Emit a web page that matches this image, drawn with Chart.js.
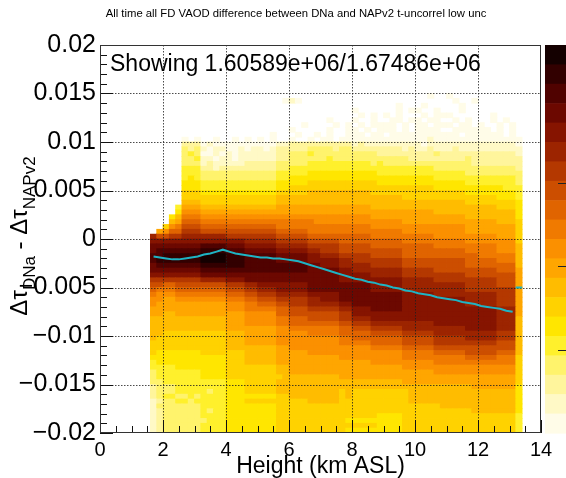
<!DOCTYPE html>
<html>
<head>
<meta charset="utf-8">
<title>VAOD difference DNa vs NAPv2</title>
<script src="https://cdn.jsdelivr.net/npm/chart.js@4/dist/chart.umd.min.js"></script>
<style>
  html, body { margin: 0; padding: 0; background: #fff; }
  canvas { display: block; }
</style>
</head>
<body>
<canvas id="vaodChart" width="566" height="478"></canvas>
<script>
// height bin edges (km ASL)
const heightEdges = [1.6, 1.8, 2.0, 2.2, 2.4, 2.6, 2.8, 3.0, 3.2, 3.4, 3.6, 3.8, 4.0, 4.2, 4.4, 4.6, 4.8, 5.0,
  5.2, 5.4, 5.6, 5.8, 6.0, 6.2, 6.4, 6.6, 6.8, 7.0, 7.2, 7.4, 7.6, 7.8, 8.0, 8.2, 8.4, 8.6, 8.8, 9.0, 9.2, 9.4,
  9.6, 9.8, 10.0, 10.2, 10.4, 10.6, 10.8, 11.0, 11.2, 11.4, 11.6, 11.8, 12.0, 12.2, 12.4, 12.6, 12.8, 13.0,
  13.2, 13.4];

// delta tau bin edges, top to bottom
const dTauEdges = [0.015, 0.0145, 0.014, 0.0135, 0.013, 0.0125, 0.012, 0.0115, 0.011, 0.0105,
  0.01, 0.0095, 0.009, 0.0085, 0.008, 0.0075, 0.007, 0.0065, 0.006, 0.0055,
  0.005, 0.0045, 0.004, 0.0035, 0.003, 0.0025, 0.002, 0.0015, 0.001, 0.0005, 0,
  -0.0005, -0.001, -0.0015, -0.002, -0.0025, -0.003, -0.0035, -0.004, -0.0045, -0.005,
  -0.0055, -0.006, -0.0065, -0.007, -0.0075, -0.008, -0.0085, -0.009, -0.0095, -0.01,
  -0.0105, -0.011, -0.0115, -0.012, -0.0125, -0.013, -0.0135, -0.014, -0.0145, -0.015,
  -0.0155, -0.016, -0.0165, -0.017, -0.0175, -0.018, -0.0185, -0.019, -0.0195, -0.02];

// colour level per cell, one string per delta tau row ('.' = empty bin, 1 = lowest ... k = highest)
// spaces only group the columns for reading
const levelKeys = '.123456789abcdefghijk';
const densityRows = [
  '..... ... .... ..... ..... ..... ..... ..... ..... ..1.. 1.... ..... . .',
  '..... ... .... ..... ....1 21... ..... ..... ..... ..... .1..1 ..... . .',
  '..... ... .... ..... ..... ..... ..... ..... ..1.. .1... ..1.. ..... . .',
  '..... ... .... ..... ..... ..... ..... 1.... ..1.1 1..1. ..1.. ..... . .',
  '..... ... .... ..... ..... ..... ..... .1.1. 1.1.. .1.11 1.... ..1.. . .',
  '..... ... .... ..... ..... ..... .1... 1..1. .11.1 1.11. .1.1. ..1.1 . .',
  '..... ... .... ..... ..... ..1.. ..1.1 .1.11 11.1. 11.11 1.11. 1..1. 1 .',
  '..... ... .... ..... ..... 1.... .1..1 1.1.1 11.1. 1111. .1111 11.1. 1 .',
  '..... ... .... ..... ..1.. .1..1 .1..1 11.11 .1111 11111 11.11 1111. 1 .',
  '..... 1.1 ..1. .1.1. 1.1.. 1..1. 11.11 11111 11111 11211 11111 11111 1 1',
  // 0.0095 .. 0.01
  '..... 333 1211 11111 11122 33333 33333 23222 22222 21222 22222 22222 2 1',
  '..... 434 2122 11212 21233 33344 44344 33333 33323 22322 23222 22222 2 2',
  '..... 454 1121 21222 22233 44454 44444 44443 33333 33343 33333 33333 3 2',
  '..... 445 2212 21222 22233 44444 45444 44444 44443 33333 33343 33333 3 3',
  '..... 444 2322 22233 33344 44455 55555 55545 44444 44444 44443 33333 3 3',
  '..... 555 3323 33333 33344 55555 55555 55555 55555 55544 44444 44444 4 3',
  '..... 555 4444 44444 44455 55566 66666 66665 55555 55555 55544 44444 4 4',
  '..... 565 4444 44444 44455 66666 66666 66666 66666 66655 55555 55555 5 4',
  '..... 666 5555 55555 55566 66677 77777 77776 66666 66666 66655 55555 5 4',
  '..... 666 5555 55555 55566 77777 77777 77777 77777 77766 66666 66665 5 5',
  // 0.005 .. 0.0055
  '..... 777 6666 66666 66677 77788 88888 88877 77777 77777 77766 66666 6 5',
  '..... 777 7777 77777 77788 88888 88888 88888 88877 77777 77777 77766 6 5',
  '..... 888 7777 77777 77788 88888 88888 88888 88888 88888 88877 77777 7 6',
  '....5 999 8888 88888 88899 99999 99999 99988 88888 88888 88888 88877 7 6',
  '....6 aaa 9999 99999 99999 99999 99999 99999 99999 99988 88888 88888 8 6',
  '...68 bbb aaaa aaaaa aaaaa aaaaa aaaaa aaa99 99999 99999 99988 88888 8 6',
  '...89 ccc bbbb bbbbb bbbbb bbbba aaaaa aaaaa aaa99 99999 99999 99988 8 7',
  '..7ab ddd cccc ccccc cccbb bbbbb bbbbb bbbaa aaaaa aaaaa aaa99 99999 9 7',
  '.9acc eee dddd ddddd dddcc cccbb bbbbb bbbbb bbbaa aaaaa aaa99 99999 9 7',
  'fddee fff ffff eeeee eeedd dddcc ccccc cccbb bbbbb bbbaa aaaaa aaa99 9 7',
  // -0.0005 .. 0
  'ggggg ggg gggg gggff fffee eeedd dddcc ccccc cccbb bbbbb bbbaa aaaaa a 7',
  'hhhhh hhh iiii hhhgg gggff fffee eeedd dddcc ccccc cccbb bbbbb bbbaa a 8',
  'hiiii iii jjjj iiihh hhhgg gggff eeedd ddddd dddcc ccccc cccbb bbbaa a 8',
  'iijjj jjj kkkk jjjii iiihh hhhgg fffee eeedd dddcc ccccc ccccc bbbbb b 8',
  'ijjjj jjj kkkk jjjii iiihh hhhgg gggff eeeee eeedd ddddd dddcc cccbb b 8',
  'hiiii iii jjjj jjjii iiiii iiihh gggff fffee eeedd ddddd dddcc ccccc c 8',
  'hhhhh hhh iiii iiiii iiiii iiihh hhhgg fffff fffee eeedd ddddd dddcc c 9',
  'ggggg ggg hhhh hhhhh hhhhh hhhhh hhhgg gggff fffee eeeee eeedd ddddd d 9',
  'eeeee eee ffff ggghh hhhhh hhhhh hhhgg ggggg gggff fffee eeeee eeedd d 9',
  'ddccd ddd dddd eeeff ggggg ggghh hhhhh hhhgg gggff fffff fffee eeedd d 9',
  // -0.0055 .. -0.005
  'cbbbc ccc cccc dddee fffgg ggghh hhhhh hhhgg gggff fffff fffee eeeee e 9',
  'baaab bbb bbbb cccdd eeeff fffgg ggghh hhhhh hhhgg gggff fffff fffee e 9',
  'aa99a aaa aaaa bbbcc dddee eeeff ggghh hhhhh hhhgg ggggg gggff fffee e 9',
  'a9999 999 9999 aaabb cccdd eeeff fffgg hhhhh hhhgg ggggg gggff fffee e 9',
  '99999 999 9999 aaabb bbbcc dddee eeeff ggghh hhhgg ggggg ggggg gggff f 9',
  '99889 999 9999 999aa aaacc ddddd dddee ggggg ggggg ggggg ggggg gggff f 9',
  '88888 888 8888 999aa aaabb cccdd dddee fffgg ggggg ggggg ggggg gggff f 8',
  '88888 888 8888 999aa aaabb ccccc cccdd eeeff fffff fffgg ggggg gggff f 8',
  '88888 888 8888 99999 999aa bbbbb bbbcc dddee eeeff fffff fffgg gggff f 8',
  '88777 777 7777 88899 999aa aaabb bbbcc cccdd dddee eeeff fffff fffee e 8',
  // -0.0105 .. -0.01
  '87777 777 7777 88899 999aa aaaaa aaabb ccccc cccdd dddee eeeff fffee e 8',
  '77777 777 7777 88899 999aa aaaaa aaabb bbbcc cccdd dddee eeeee eeedd d 8',
  '77777 777 7777 88888 88899 aaaaa aaaaa aaabb bbbcc cccdd ddddd ddddd d 8',
  '76666 666 7777 77788 88899 999aa aaaaa aaaaa aaabb bbbcc cccdd dddcc c 8',
  '66666 666 6666 77788 88899 99999 999aa aaaaa aaabb bbbbb bbbcc cccbb b 7',
  '56666 666 6666 77788 88899 99999 99999 999aa aaaaa aaabb bbbbb bbbbb b 7',
  '55556 666 6666 77777 77788 99999 99999 99999 999aa aaaaa aaaaa aaaaa a 7',
  '45555 555 6666 77777 77788 99999 99999 99999 99999 999aa aaaaa aaaaa a 7',
  '45555 555 6666 77777 77778 88888 88899 99999 99999 99999 99999 99999 9 7',
  '44555 555 5555 66677 77788 88888 88888 88888 88899 99999 99999 99999 9 7',
  // -0.0155 .. -0.015
  '34445 555 5555 66677 77788 88888 88888 88888 88888 88888 88889 99999 9 6',
  '34445 555 5455 66677 77788 88888 88878 77777 77778 88888 88888 88888 8 6',
  '34554 454 5555 66666 66677 88888 88878 77777 77778 88888 88888 88888 8 6',
  '23445 545 5555 66677 77777 77788 88877 77777 77778 88888 88888 88888 8 6',
  '24444 444 5555 66666 66677 77777 77777 77777 77777 77778 88888 88888 8 6',
  '23444 444 5455 66666 66677 77777 77777 77777 77777 77777 77778 88888 8 6',
  '23444 444 5555 66666 66677 77777 77777 77776 66677 77777 77777 77777 7 5',
  '23444 444 4555 66666 66677 77777 77776 66666 66677 77777 77777 77777 7 5',
  '23444 444 5555 66666 66677 77777 77777 77776 66677 77777 77777 77777 7 5',
  '23444 444 5555 66666 66677 77777 77776 66666 66677 77777 77777 77777 7 5'
];

// mean delta tau per height bin (profile)
const profileHeight = [1.7, 1.9, 2.1, 2.3, 2.5, 2.7, 2.9, 3.1, 3.3, 3.5, 3.7, 3.9, 4.1, 4.3, 4.5, 4.7, 4.9,
  5.1, 5.3, 5.5, 5.7, 5.9, 6.1, 6.3, 6.5, 6.7, 6.9, 7.1, 7.3, 7.5, 7.7, 7.9, 8.1, 8.3, 8.5, 8.7, 8.9, 9.1,
  9.3, 9.5, 9.7, 9.9, 10.1, 10.3, 10.5, 10.7, 10.9, 11.1, 11.3, 11.5, 11.7, 11.9, 12.1, 12.3, 12.5, 12.7,
  12.9, 13.1];
const profileMean = [-0.0018, -0.0019, -0.0020, -0.0021, -0.0021, -0.0020, -0.0019, -0.0018, -0.0016, -0.0015,
  -0.0013, -0.0011, -0.0013, -0.0015, -0.0016, -0.0017, -0.0018, -0.0019, -0.0019, -0.0020,
  -0.0020, -0.0021, -0.0022, -0.0023, -0.0025, -0.0027, -0.0029, -0.0031, -0.0033, -0.0035,
  -0.0037, -0.0039, -0.0041, -0.0042, -0.0044, -0.0045, -0.0047, -0.0048, -0.0050, -0.0051,
  -0.0053, -0.0054, -0.0056, -0.0057, -0.0058, -0.0060, -0.0061, -0.0062, -0.0063, -0.0065,
  -0.0066, -0.0067, -0.0069, -0.0070, -0.0071, -0.0072, -0.0074, -0.0075];
// last height bin, drawn on its own
const edgeBinHeight = [13.3];
const edgeBinMean = [-0.0050];

const xTickValues = [0, 2, 4, 6, 8, 10, 12, 14];
const xTickLabels = ['0', '2', '4', '6', '8', '10', '12', '14'];
const yTickValues = [-0.02, -0.015, -0.01, -0.005, 0, 0.005, 0.01, 0.015, 0.02];
const yTickLabels = ['\u22120.02', '\u22120.015', '\u22120.01', '\u22120.005', '0', '0.005', '0.01', '0.015', '0.02'];

// log10 of entries on the colour axis
const zLogMax = 4.65;
const zLogTicks = [1, 2, 3];

const palette = ['#fffce8', '#fff9c6', '#fff59c', '#fff36c', '#fff02c', '#ffe600', '#ffd200', '#ffbc00',
  '#ffa600', '#fb9000', '#f07a00', '#e06400', '#cc4e00', '#b43800', '#9c2400', '#861400',
  '#6c0800', '#500200', '#320000', '#140000'];

const plotTitle = 'All time all FD VAOD difference between DNa and NAPv2 t-uncorrel low unc';
const statsText = 'Showing 1.60589e+06/1.67486e+06';
const xTitle = 'Height (km ASL)';
const yTitleParts = [
  { text: '\u0394\u03c4', sub: false },
  { text: 'DNa', sub: true },
  { text: ' - \u0394\u03c4', sub: false },
  { text: 'NAPv2', sub: true }
];

const fontFamily = "'Liberation Sans', Arial, Helvetica, sans-serif";
const lineCyan = '#1fb4c4';

// build the 2D histogram cells as floating bars
const cells = [];
densityRows.forEach((row, r) => {
  const cols = row.replace(/ /g, '');
  for (let c = 0; c < cols.length; c++) {
    const level = levelKeys.indexOf(cols[c]);
    if (level > 0) {
      cells.push({
        x: (heightEdges[c] + heightEdges[c + 1]) / 2,
        y: [dTauEdges[r + 1], dTauEdges[r]],
        level: level
      });
    }
  }
});

// grid, frame and inside tick marks, drawn right after the histogram
const frameAndGrid = {
  id: 'frameAndGrid',
  afterDatasetDraw(chart, args) {
    if (args.index !== 0) return;
    const { ctx, chartArea: a, scales: { x, y } } = chart;
    ctx.save();
    ctx.strokeStyle = 'rgba(30,30,30,0.8)';
    ctx.lineWidth = 1;
    ctx.setLineDash([1.5, 1.5]);
    ctx.beginPath();
    xTickValues.slice(1, -1).forEach(v => {
      const px = Math.round(x.getPixelForValue(v)) + 0.5;
      ctx.moveTo(px, a.top);
      ctx.lineTo(px, a.bottom);
    });
    yTickValues.slice(1, -1).forEach(v => {
      const py = Math.round(y.getPixelForValue(v)) + 0.5;
      ctx.moveTo(a.left, py);
      ctx.lineTo(a.right, py);
    });
    ctx.stroke();
    ctx.setLineDash([]);

    ctx.strokeStyle = '#111';
    ctx.beginPath();
    for (let k = 0; k <= 28; k++) {
      const px = Math.round(x.getPixelForValue(k * 0.5)) + 0.5;
      const len = k % 4 === 0 ? 13 : 7;
      ctx.moveTo(px, a.bottom);
      ctx.lineTo(px, a.bottom - len);
    }
    for (let k = -20; k <= 20; k++) {
      const py = Math.round(y.getPixelForValue(k * 0.001)) + 0.5;
      const len = k % 5 === 0 ? 13 : 7;
      ctx.moveTo(a.left, py);
      ctx.lineTo(a.left + len, py);
    }
    ctx.stroke();
    ctx.strokeStyle = '#333';
    ctx.strokeRect(a.left + 0.5, a.top + 0.5, a.width - 1, a.height - 1);
    ctx.restore();
  }
};

// colour axis, titles and the entries box
const annotations = {
  id: 'annotations',
  afterDraw(chart) {
    const { ctx, chartArea: a, width } = chart;
    ctx.save();

    const left = a.right + 4;
    const n = palette.length;
    const band = (a.bottom - a.top) / n;
    for (let i = 0; i < n; i++) {
      ctx.fillStyle = palette[n - 1 - i];
      ctx.fillRect(left, a.top + i * band, width - left, band + 0.6);
    }
    ctx.strokeStyle = '#222';
    ctx.lineWidth = 1;
    ctx.beginPath();
    zLogTicks.forEach(v => {
      const py = Math.round(a.bottom - (v / zLogMax) * (a.bottom - a.top)) + 0.5;
      ctx.moveTo(width - 8, py);
      ctx.lineTo(width, py);
    });
    ctx.stroke();

    ctx.fillStyle = '#000';
    ctx.textBaseline = 'alphabetic';
    ctx.textAlign = 'center';
    ctx.font = '11.3px ' + fontFamily;
    ctx.fillText(plotTitle, 296, 16.5);

    ctx.font = '23px ' + fontFamily;
    ctx.fillText(xTitle, (a.left + a.right) / 2, 473);

    ctx.textAlign = 'left';
    ctx.fillText(statsText, 110, 71);

    ctx.translate(27, 236);
    ctx.rotate(-Math.PI / 2);
    let total = 0;
    yTitleParts.forEach(p => {
      ctx.font = (p.sub ? 17 : 24) + 'px ' + fontFamily;
      p.width = ctx.measureText(p.text).width;
      total += p.width;
    });
    let pos = -total / 2;
    yTitleParts.forEach(p => {
      ctx.font = (p.sub ? 17 : 24) + 'px ' + fontFamily;
      ctx.fillText(p.text, pos, p.sub ? 8 : 0);
      pos += p.width;
    });
    ctx.restore();
  }
};

new Chart(document.getElementById('vaodChart'), {
  type: 'bar',
  data: {
    datasets: [
      {
        type: 'bar',
        data: cells,
        backgroundColor: cells.map(p => palette[p.level - 1]),
        borderWidth: 0,
        barPercentage: 1,
        categoryPercentage: 1,
        inflateAmount: 0.4,
        order: 3
      },
      {
        type: 'line',
        data: profileHeight.map((h, i) => ({ x: h, y: profileMean[i] })),
        borderColor: lineCyan,
        borderWidth: 2,
        pointRadius: 0,
        tension: 0,
        fill: false,
        order: 2
      },
      {
        type: 'scatter',
        data: edgeBinHeight.map((h, i) => ({ x: h, y: edgeBinMean[i] })),
        pointStyle: 'line',
        pointRadius: 3.3,
        borderColor: lineCyan,
        borderWidth: 2,
        order: 1
      }
    ]
  },
  options: {
    responsive: false,
    animation: false,
    layout: { padding: { top: 45, right: 25, bottom: 0, left: 0 } },
    scales: {
      x: {
        type: 'linear',
        min: 0,
        max: 14,
        offset: false,
        afterFit: s => { s.height = 45; },
        afterBuildTicks: s => { s.ticks = xTickValues.map(v => ({ value: v })); },
        grid: { display: false, drawTicks: false },
        border: { display: false },
        ticks: {
          padding: 5,
          color: '#000',
          maxRotation: 0,
          autoSkip: false,
          font: { family: fontFamily, size: 20 },
          callback: (v, i) => xTickLabels[i]
        }
      },
      y: {
        type: 'linear',
        min: -0.02,
        max: 0.02,
        afterFit: s => { s.width = 100; },
        afterBuildTicks: s => { s.ticks = yTickValues.map(v => ({ value: v })); },
        grid: { display: false, drawTicks: false },
        border: { display: false },
        ticks: {
          padding: 4,
          color: '#000',
          autoSkip: false,
          font: { family: fontFamily, size: 25 },
          callback: (v, i) => yTickLabels[i]
        }
      }
    },
    plugins: {
      legend: { display: false },
      tooltip: { enabled: false }
    }
  },
  plugins: [frameAndGrid, annotations]
});
</script>
</body>
</html>
